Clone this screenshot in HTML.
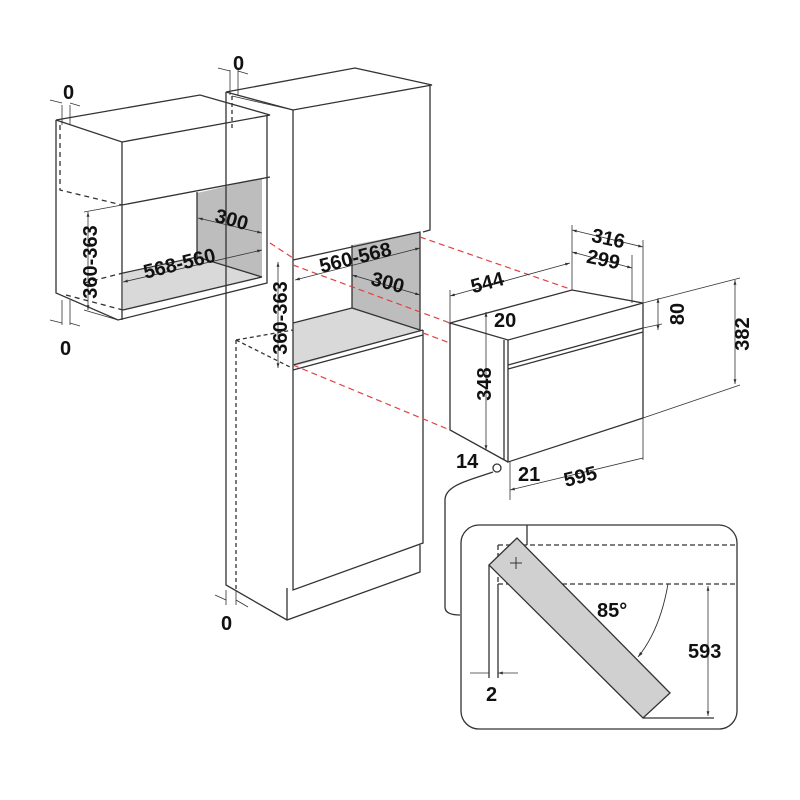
<!DOCTYPE html>
<html><head><meta charset="utf-8"><style>html,body{margin:0;padding:0;background:#fff}svg{display:block}</style></head>
<body>
<svg width="800" height="800" viewBox="0 0 800 800" xmlns="http://www.w3.org/2000/svg" font-family="Liberation Sans, sans-serif" font-weight="bold" font-size="20">
<defs>
<marker id="a" viewBox="0 0 10 10" refX="10" refY="5" markerWidth="6" markerHeight="6" orient="auto-start-reverse"><path d="M0,2 L10,5 L0,8 z" fill="#333"/></marker>
</defs>
<g stroke="#333" stroke-width="1.3" fill="none">
<!-- left wall cabinet fills -->
<polygon points="197,193 262,178 262,277 197,257" fill="#bdbdbd" stroke="none"/>
<polygon points="123,273 197,257 262,277 123,310" fill="#d9d9d9" stroke="none"/>
<path d="M56,120 L200,95 L270,115 L122,142 Z"/>
<path d="M56,120 L56,293 L118,320 L267,283 L267,115"/>
<path d="M122,142 L122,320 M122,205 L270,177 M197,192 L197,257 M123,310 L262,277 M123,273 L197,257 L262,277"/>
<path d="M60,125 L60,190 L122,205 M66,295 L123,310 M84,283 L123,273" stroke-dasharray="5,4"/>
<path d="M84,212 L122,205 M84,310 L118,320" stroke-width="0.8"/>
<!-- tall cabinet fills -->
<polygon points="352,245 420,232 420,330 352,308" fill="#bdbdbd" stroke="none"/>
<polygon points="293,323 352,308 420,330 293,367" fill="#d9d9d9" stroke="none"/>
<path d="M226,92 L355,68 L432,85 L293,110 Z"/>
<path d="M226,92 L226,585 L287,620 L420,572 L420,545"/>
<path d="M293,110 L293,590 L423,543 L423,330 M430,85 L430,230 L423,232 M293,260 L420,232 L420,330 M352,245 L352,308 L420,330 M293,323 L352,308 M293,365 L423,330 M293,370 L423,335 M287,588 L287,620"/>
<path d="M232,96 L232,130 M236,340 L236,590 M236,340 L293,330 M236,340 L290,367" stroke-dasharray="4,3"/>
<path d="M232,96 L293,110" stroke-width="0.8"/>
<!-- red dashed -->
<g stroke="#e04040" stroke-dasharray="6,4" stroke-width="1.2">
<path d="M420,237 L570,289 M293,265 L450,323 M423,333 L450,343 M293,365 L450,430 M270,243 L293,258"/>
</g>
<!-- oven -->
<path d="M450,323 L572,290 L643,303 L508,340 Z"/>
<path d="M450,323 L450,430 L508,462 M508,340 L508,462 L643,418 L643,303 M504,340 L504,460 M508,365 L643,328 M508,369 L643,332"/>
<!-- oven dims -->
<path d="M572,225 L572,290 M643,240 L643,460 M632,255 L632,303 M450,290 L450,323" stroke-width="0.8"/>
<path d="M572,230 L643,247" marker-start="url(#a)" marker-end="url(#a)" stroke-width="0.8"/>
<path d="M572,252 L632,268" marker-start="url(#a)" marker-end="url(#a)" stroke-width="0.8"/>
<path d="M450,296 L570,263" marker-start="url(#a)" marker-end="url(#a)" stroke-width="0.8"/>
<path d="M643,303 L740,278 M643,418 L740,385 M643,328 L662,324" stroke-width="0.8"/>
<path d="M735,280 L735,384" marker-start="url(#a)" marker-end="url(#a)" stroke-width="0.8"/>
<path d="M658,298 L658,330" marker-start="url(#a)" marker-end="url(#a)" stroke-width="0.8"/>
<path d="M486,312 L486,450" marker-start="url(#a)" marker-end="url(#a)" stroke-width="0.8"/>
<path d="M510,490 L643,458 M510,462 L510,500" stroke-width="0.8" marker-start="url(#a)"/>
<!-- left cabinet dims -->
<path d="M62,105 L62,125 M70,105 L70,125 M50,100 L62,103 M70,103 L80,106" stroke-width="0.8"/>
<path d="M62,300 L62,325 M70,300 L70,325 M50,320 L62,323 M70,323 L80,326" stroke-width="0.8"/>
<path d="M88,212 L88,310" marker-start="url(#a)" marker-end="url(#a)" stroke-width="0.8"/>
<path d="M198,218 L262,233" marker-start="url(#a)" marker-end="url(#a)" stroke-width="0.8"/>
<path d="M123,282 L262,250" marker-start="url(#a)" marker-end="url(#a)" stroke-width="0.8"/>
<path d="M230,70 L230,95 M238,70 L238,95 M218,68 L230,71 M238,71 L248,74" stroke-width="0.8"/>
<path d="M295,280 L420,248" marker-start="url(#a)" marker-end="url(#a)" stroke-width="0.8"/>
<path d="M352,275 L420,295" marker-start="url(#a)" marker-end="url(#a)" stroke-width="0.8"/>
<path d="M278,262 L278,368" marker-start="url(#a)" marker-end="url(#a)" stroke-width="0.8"/>
<path d="M226,590 L226,605 M236,590 L236,605 M215,595 L226,600 M236,600 L248,607" stroke-width="0.8"/>
<!-- connector to inset -->
<circle cx="497" cy="468" r="4"/>
<path d="M493,472 C470,480 445,485 445,500 L445,607 Q445,615 460,615"/>
<!-- inset -->
<rect x="461" y="525" width="276" height="204" rx="18"/>
<path d="M527,525 L527,545"/>
<path d="M498,545 L737,545 M498,584 L737,584 M498,545 L498,584" stroke-dasharray="5,3"/>
<polygon points="517,538 489,565 643,718 670,693" fill="#d0d0d0"/>
<path d="M510,563 L522,563 M516,557 L516,569" stroke-width="1"/>
<path d="M489,565 L489,678 M498,584 L498,678 M643,718 L714,718"/>
<path d="M470,673 L489,673 M518,673 L498,673" marker-end="url(#a)" stroke-width="0.8"/>
<path d="M668,584 Q660,630 638,657" marker-end="url(#a)" stroke-width="0.9"/>
<path d="M708,586 L708,716" marker-start="url(#a)" marker-end="url(#a)" stroke-width="0.8"/>
</g>
<g fill="#111">
<text x="63" y="99">0</text>
<text x="60" y="355">0</text>
<text x="233" y="70">0</text>
<text x="221" y="630">0</text>
<text transform="translate(97,262) rotate(-90)" text-anchor="middle">360-363</text>
<text transform="translate(287,318) rotate(-90)" text-anchor="middle">360-363</text>
<text transform="translate(230,226) rotate(15)" text-anchor="middle">300</text>
<text transform="translate(181,270) rotate(-14)" text-anchor="middle">568-560</text>
<text transform="translate(357,264) rotate(-14)" text-anchor="middle">560-568</text>
<text transform="translate(386,289) rotate(15)" text-anchor="middle">300</text>
<text transform="translate(607,245) rotate(12)" text-anchor="middle">316</text>
<text transform="translate(602,266) rotate(12)" text-anchor="middle">299</text>
<text transform="translate(489,289) rotate(-15)" text-anchor="middle">544</text>
<text x="494" y="327">20</text>
<text transform="translate(684,314) rotate(-90)" text-anchor="middle">80</text>
<text transform="translate(749,334) rotate(-90)" text-anchor="middle">382</text>
<text transform="translate(491,384) rotate(-90)" text-anchor="middle">348</text>
<text x="456" y="468">14</text>
<text x="518" y="481">21</text>
<text transform="translate(582,483) rotate(-14)" text-anchor="middle">595</text>
<text x="597" y="617">85°</text>
<text x="688" y="658">593</text>
<text x="486" y="701">2</text>
</g>
</svg>
</body></html>
